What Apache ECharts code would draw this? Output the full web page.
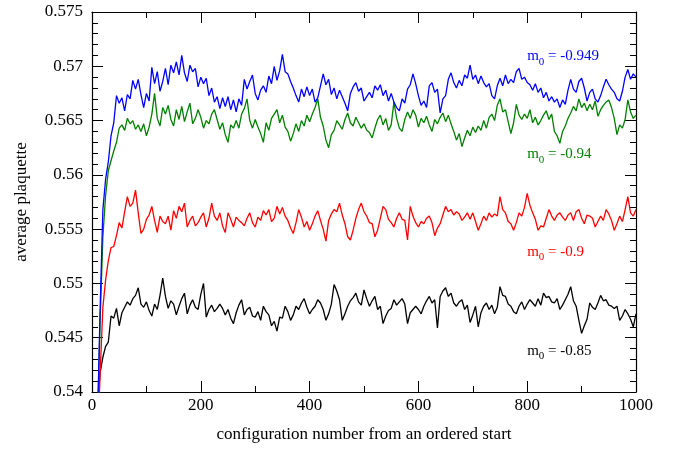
<!DOCTYPE html>
<html>
<head>
<meta charset="utf-8">
<script src="https://cdn.jsdelivr.net/npm/echarts@6/dist/echarts.min.js"></script>
<style>
  html, body { margin: 0; padding: 0; background: #fff; }
  #chart { width: 684px; height: 449px; }
</style>
</head>
<body>
<div id="chart"></div>
<script>
// Average plaquette vs. configuration number, one run per bare mass m0.
// Values are sampled every STEP configurations, starting at configuration 0.
const STEP = 5;

const xTicks = [0, 200, 400, 600, 800, 1000];
const yTicks = [0.54, 0.545, 0.55, 0.555, 0.56, 0.565, 0.57, 0.575];

const masses = ['-0.949', '-0.94', '-0.9', '-0.85'];

const plaqM0949 = [
  0.515, 0.527, 0.537, 0.5478, 0.5568, 0.5596, 0.5612, 0.5636, 0.5648, 0.5673,
  0.5666, 0.5671, 0.5659, 0.5674, 0.5670, 0.5687, 0.5679, 0.5688, 0.5674, 0.5662,
  0.5675, 0.5668, 0.5699, 0.5684, 0.5695, 0.5677, 0.5686, 0.5698, 0.5683, 0.5701,
  0.5694, 0.5704, 0.5692, 0.5710, 0.5694, 0.5686, 0.5701, 0.5695, 0.5698, 0.5681,
  0.5690, 0.5684, 0.5689, 0.5673, 0.5680, 0.5667, 0.5672, 0.5661, 0.5671, 0.5663,
  0.5672, 0.5660, 0.5669, 0.5658, 0.5670, 0.5664, 0.5688, 0.5679, 0.5686, 0.5692,
  0.5675, 0.5669, 0.5678, 0.5682, 0.5676, 0.5691, 0.5684, 0.5700, 0.5687, 0.5696,
  0.5711, 0.5695, 0.5693, 0.5686, 0.5680, 0.5673, 0.5667, 0.5679, 0.5672, 0.5681,
  0.5673, 0.5679, 0.5667, 0.5671, 0.5682, 0.5693, 0.5683, 0.5688, 0.5674, 0.5680,
  0.5670, 0.5678, 0.5672, 0.5666, 0.5659, 0.5675, 0.5681, 0.5685, 0.5677, 0.5680,
  0.5668, 0.5672, 0.5676, 0.5671, 0.5682, 0.5678, 0.5683, 0.5673, 0.5678, 0.5668,
  0.5675, 0.5667, 0.5662, 0.5659, 0.5670, 0.5666, 0.5679, 0.5683, 0.5693, 0.5684,
  0.5673, 0.5664, 0.5668, 0.5662, 0.5682, 0.5685, 0.5676, 0.5679, 0.5657, 0.5670,
  0.5673, 0.5688, 0.5694, 0.5685, 0.5680, 0.5687, 0.5682, 0.5692, 0.5689, 0.5701,
  0.5688, 0.5692, 0.5684, 0.5691, 0.5685, 0.5681, 0.5684, 0.5673, 0.5670, 0.5682,
  0.5689, 0.5682, 0.5692, 0.5684, 0.5688, 0.5685, 0.5695, 0.5698, 0.5688, 0.5690,
  0.5685, 0.5683, 0.5678, 0.5684, 0.5676, 0.5680, 0.5671, 0.5676, 0.5668, 0.5672,
  0.5667, 0.5670, 0.5662, 0.5669, 0.5665, 0.5678, 0.5688, 0.5679, 0.5676, 0.5686,
  0.5689, 0.5680, 0.5668, 0.5676, 0.5679, 0.5670, 0.5667, 0.5673, 0.5681, 0.5688,
  0.5683, 0.5679, 0.5676, 0.5670, 0.5668, 0.5677, 0.5690, 0.5697, 0.5688, 0.5693,
  0.5690
];

const plaqM094 = [
  0.515, 0.527, 0.537, 0.5466, 0.5543, 0.5581, 0.5604, 0.5613, 0.5622, 0.5630,
  0.5643, 0.5646, 0.5641, 0.5652, 0.5647, 0.5650, 0.5642, 0.5646, 0.5640, 0.5647,
  0.5636, 0.5644, 0.5656, 0.5675, 0.5652, 0.5645, 0.5662, 0.5656, 0.5664, 0.5651,
  0.5645, 0.5660, 0.5651, 0.5663, 0.5649, 0.5658, 0.5666, 0.5647, 0.5652, 0.5660,
  0.5653, 0.5643, 0.5650, 0.5647, 0.5656, 0.5660, 0.5651, 0.5642, 0.5648, 0.5637,
  0.5630, 0.5646, 0.5643, 0.5650, 0.5643, 0.5656, 0.5661, 0.5670, 0.5650, 0.5643,
  0.5651, 0.5644, 0.5638, 0.5630, 0.5648, 0.5641, 0.5652, 0.5656, 0.5660, 0.5648,
  0.5655, 0.5644, 0.5640, 0.5631, 0.5638, 0.5647, 0.5640, 0.5650, 0.5645, 0.5655,
  0.5649, 0.5656, 0.5662, 0.5670, 0.5653, 0.5645, 0.5632, 0.5625, 0.5637, 0.5641,
  0.5650, 0.5646, 0.5642, 0.5651, 0.5657, 0.5648, 0.5645, 0.5653, 0.5648, 0.5643,
  0.5647, 0.5641, 0.5639, 0.5634, 0.5643, 0.5651, 0.5655, 0.5646, 0.5652, 0.5641,
  0.5646, 0.5667, 0.5652, 0.5643, 0.5640, 0.5651, 0.5658, 0.5652, 0.5660, 0.5655,
  0.5644, 0.5652, 0.5648, 0.5654, 0.5646, 0.5640, 0.5651, 0.5647, 0.5653, 0.5657,
  0.5649, 0.5655, 0.5647, 0.5640, 0.5632, 0.5638, 0.5626, 0.5634, 0.5641, 0.5636,
  0.5644, 0.5639, 0.5645, 0.5641, 0.5650, 0.5643, 0.5653, 0.5656, 0.5650, 0.5664,
  0.5670, 0.5658, 0.5660, 0.5649, 0.5638, 0.5648, 0.5665, 0.5655, 0.5651, 0.5656,
  0.5652, 0.5660, 0.5648, 0.5653, 0.5646, 0.5650, 0.5655, 0.5659, 0.5651, 0.5656,
  0.5640, 0.5636, 0.5629, 0.5640, 0.5645, 0.5652, 0.5657, 0.5663, 0.5659, 0.5670,
  0.5662, 0.5666, 0.5659, 0.5665, 0.5660, 0.5668, 0.5654, 0.5660, 0.5664, 0.5667,
  0.5669, 0.5662, 0.5652, 0.5637, 0.5646, 0.5643, 0.5651, 0.5669, 0.5658, 0.5652,
  0.5655
];

const plaqM09 = [
  0.512, 0.524, 0.5345, 0.5418, 0.5478, 0.5503, 0.5521, 0.5533, 0.5534, 0.5544,
  0.5556, 0.5551, 0.5566, 0.5580, 0.5571, 0.5574, 0.5586, 0.5565, 0.5546, 0.5550,
  0.5559, 0.5563, 0.5571, 0.5558, 0.5547, 0.5562, 0.5557, 0.5555, 0.5562, 0.5549,
  0.5567, 0.5560, 0.5571, 0.5566, 0.5574, 0.5552, 0.5558, 0.5562, 0.5553, 0.5556,
  0.5561, 0.5565, 0.5552, 0.5560, 0.5574, 0.5562, 0.5558, 0.5565, 0.5553, 0.5547,
  0.5565, 0.5559, 0.5552, 0.5561, 0.5558, 0.5556, 0.5553, 0.5560, 0.5565, 0.5556,
  0.5552, 0.5561, 0.5558, 0.5567, 0.5563, 0.5568, 0.5557, 0.5560, 0.5571, 0.5564,
  0.5570, 0.5562, 0.5558, 0.5551, 0.5546, 0.5556, 0.5568, 0.5561, 0.5552, 0.5557,
  0.5549, 0.5555, 0.5562, 0.5567, 0.5558, 0.5550, 0.5539, 0.5558, 0.5564, 0.5568,
  0.5566, 0.5574, 0.5563, 0.5555, 0.5543, 0.5540, 0.5549, 0.5560, 0.5568, 0.5574,
  0.5566, 0.5562, 0.5556, 0.5555, 0.5543, 0.5549, 0.5560, 0.5571, 0.5568, 0.5559,
  0.5556, 0.5552, 0.5560, 0.5565, 0.5559, 0.5558, 0.5540, 0.5571, 0.5562, 0.5556,
  0.5552, 0.5557, 0.5555, 0.5560, 0.5562, 0.5556, 0.5544, 0.5551, 0.5555, 0.5563,
  0.5571, 0.5566, 0.5568, 0.5563, 0.5566, 0.5564, 0.5558, 0.5561, 0.5565, 0.5559,
  0.5565, 0.5557, 0.5549, 0.5555, 0.5562, 0.5558, 0.5565, 0.5561, 0.5564, 0.5562,
  0.5580, 0.5568, 0.5565, 0.5557, 0.5555, 0.5549, 0.5556, 0.5565, 0.5562, 0.5570,
  0.5583, 0.5572, 0.5565, 0.5559, 0.5549, 0.5553, 0.5552, 0.5560, 0.5568, 0.5562,
  0.5558, 0.5563, 0.5565, 0.5561, 0.5558, 0.5563, 0.5565, 0.5558, 0.5566, 0.5568,
  0.5560, 0.5555, 0.5563, 0.5562, 0.5560, 0.5552, 0.5557, 0.5562, 0.5558, 0.5568,
  0.5564, 0.5558, 0.5549, 0.5555, 0.5562, 0.5557, 0.5568, 0.5580, 0.5565, 0.5562,
  0.5568
];

const plaqM085 = [
  0.510, 0.522, 0.5385, 0.5418, 0.5432, 0.5442, 0.5446, 0.5470, 0.5468, 0.5477,
  0.5461, 0.5473, 0.5478, 0.5483, 0.5480, 0.5486, 0.5489, 0.5496, 0.5481, 0.5478,
  0.5483, 0.5475, 0.5470, 0.5481, 0.5476, 0.5489, 0.5505, 0.5488, 0.5477, 0.5484,
  0.5481, 0.5471, 0.5479, 0.5486, 0.5491, 0.5472, 0.5480, 0.5485, 0.5478, 0.5476,
  0.5490, 0.5500, 0.5469, 0.5476, 0.5480, 0.5474, 0.5477, 0.5481, 0.5477, 0.5471,
  0.5476, 0.5468, 0.5463, 0.5473, 0.5480, 0.5485, 0.5471, 0.5476, 0.5478, 0.5470,
  0.5469, 0.5474, 0.5466, 0.5479, 0.5474, 0.5471, 0.5461, 0.5465, 0.5456, 0.5469,
  0.5468, 0.5479, 0.5474, 0.5466, 0.5471, 0.5479, 0.5476, 0.5482, 0.5486, 0.5478,
  0.5472, 0.5476, 0.5479, 0.5485, 0.5482, 0.5476, 0.5466, 0.5472, 0.5481, 0.5499,
  0.5493, 0.5485, 0.5466, 0.5472, 0.5479, 0.5484, 0.5487, 0.5491, 0.5483, 0.5480,
  0.5494, 0.5486, 0.5479, 0.5484, 0.5488, 0.5476, 0.5479, 0.5463, 0.5470, 0.5475,
  0.5477, 0.5485, 0.5480, 0.5483, 0.5486, 0.5481, 0.5463, 0.5473, 0.5476, 0.5479,
  0.5476, 0.5472, 0.5479, 0.5484, 0.5488, 0.5482, 0.5485, 0.5459, 0.5488, 0.5493,
  0.5496, 0.5488, 0.5491, 0.5482, 0.5479, 0.5483, 0.5485, 0.5476, 0.5480, 0.5464,
  0.5471, 0.5479, 0.5460, 0.5473, 0.5479, 0.5482, 0.5476, 0.5480, 0.5472, 0.5478,
  0.5497, 0.5489, 0.5488, 0.5481, 0.5479, 0.5474, 0.5472, 0.5479, 0.5483, 0.5476,
  0.5481, 0.5485, 0.5482, 0.5479, 0.5486, 0.5480, 0.5491, 0.5487, 0.5488, 0.5483,
  0.5482, 0.5486, 0.5476, 0.5480, 0.5485, 0.5490, 0.5497, 0.5484, 0.5479, 0.5466,
  0.5454, 0.5461, 0.5467, 0.5482, 0.5478, 0.5476, 0.5482, 0.5489, 0.5484, 0.5485,
  0.5480, 0.5479, 0.5477, 0.5479, 0.5466, 0.5470, 0.5476, 0.5472, 0.5467, 0.5460,
  0.5472
];

const runs = [plaqM0949, plaqM094, plaqM09, plaqM085];
const colors = ['#0000ff', '#008000', '#ff0000', '#000000'];
// where each "m0 = ..." caption sits, in data coordinates [configuration, plaquette]
const captionAnchors = [[800, 0.5709], [800, 0.5619], [800, 0.5529], [800, 0.5438]];

const FONT = '"Liberation Serif", "DejaVu Serif", serif';

function withConfig(values) {
  return values.map((v, i) => [i * STEP, v]);
}

const chart = echarts.init(document.getElementById('chart'), null, { renderer: 'canvas' });

const tickStyle = { show: true, inside: true, length: 11, lineStyle: { color: '#000', width: 1 } };
const minorStyle = (n) => ({ show: true, splitNumber: n, length: 6, lineStyle: { color: '#000', width: 1 } });

const option = {
  animation: false,
  backgroundColor: '#fff',
  grid: { left: 92, right: 48, top: 12, bottom: 57, containLabel: false },
  xAxis: [
    {
      type: 'value', position: 'bottom',
      min: xTicks[0], max: xTicks[xTicks.length - 1], interval: xTicks[1] - xTicks[0],
      name: 'configuration number from an ordered start',
      nameLocation: 'middle', nameGap: 34,
      nameTextStyle: { fontFamily: FONT, fontSize: 17, color: '#000' },
      axisLine: { show: true, onZero: false, lineStyle: { color: '#000', width: 1.2 } },
      axisTick: tickStyle,
      minorTick: minorStyle(2),
      splitLine: { show: false },
      axisLabel: {
        fontFamily: FONT, fontSize: 17, color: '#000', margin: 5,
        formatter: (v) => String(v)
      }
    },
    {
      type: 'value', position: 'top',
      min: xTicks[0], max: xTicks[xTicks.length - 1], interval: xTicks[1] - xTicks[0],
      axisLine: { show: true, onZero: false, lineStyle: { color: '#000', width: 1.2 } },
      axisTick: tickStyle,
      minorTick: minorStyle(2),
      splitLine: { show: false },
      axisLabel: { show: false }
    }
  ],
  yAxis: [
    {
      type: 'value', position: 'left',
      min: yTicks[0], max: yTicks[yTicks.length - 1], interval: 0.005,
      name: 'average plaquette',
      nameLocation: 'middle', nameGap: 62,
      nameTextStyle: { fontFamily: FONT, fontSize: 17, color: '#000' },
      axisLine: { show: true, onZero: false, lineStyle: { color: '#000', width: 1.2 } },
      axisTick: tickStyle,
      minorTick: minorStyle(5),
      splitLine: { show: false },
      axisLabel: {
        fontFamily: FONT, fontSize: 17, color: '#000', margin: 9,
        formatter: (v) => String(+v.toFixed(3))
      }
    },
    {
      type: 'value', position: 'right',
      min: yTicks[0], max: yTicks[yTicks.length - 1], interval: 0.005,
      axisLine: { show: true, onZero: false, lineStyle: { color: '#000', width: 1.2 } },
      axisTick: tickStyle,
      minorTick: minorStyle(5),
      splitLine: { show: false },
      axisLabel: { show: false }
    }
  ],
  series: runs.map((vals, k) => ({
    name: 'm0 = ' + masses[k],
    type: 'line',
    xAxisIndex: 0, yAxisIndex: 0,
    data: withConfig(vals),
    showSymbol: false,
    clip: true,
    lineStyle: { color: colors[k], width: 1.3 },
    itemStyle: { color: colors[k] },
    z: 10 - k
  }))
};

chart.setOption(option);

// Mass captions with a lowered "0" subscript, anchored through the axis scales.
const captions = captionAnchors.map((anchor, k) => {
  const p = chart.convertToPixel({ gridIndex: 0 }, anchor);
  return {
    type: 'text',
    x: p[0], y: p[1],
    style: {
      text: '{m|m}{s|0}{m| = ' + masses[k] + '}',
      verticalAlign: 'middle',
      align: 'left',
      fill: colors[k],
      rich: {
        m: { fontFamily: FONT, fontSize: 15, lineHeight: 22, fill: colors[k], verticalAlign: 'middle' },
        s: { fontFamily: FONT, fontSize: 11, lineHeight: 11, fill: colors[k], verticalAlign: 'bottom' }
      }
    },
    z: 100
  };
});
chart.setOption({ graphic: captions });
</script>
</body>
</html>
